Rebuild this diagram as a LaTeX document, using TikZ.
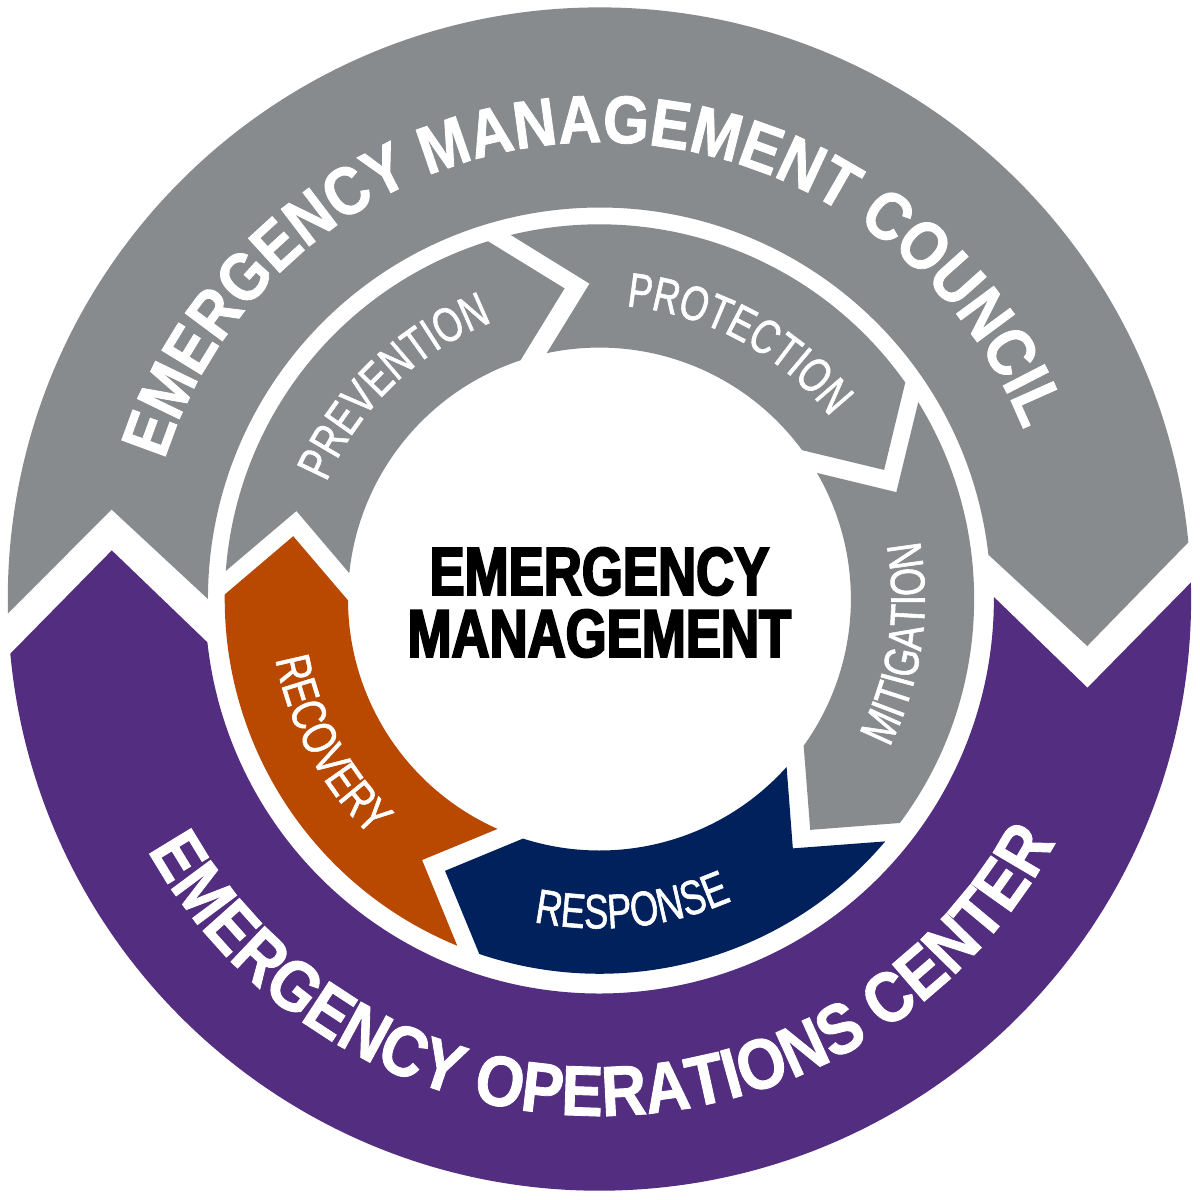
\documentclass[tikz,border=0pt]{standalone}
\usepackage{fontspec}
\usepackage{tikz}
\usetikzlibrary{decorations.text}
\newfontfamily\councilfont{Liberation Sans}[FakeStretch=0.88, BoldFeatures={FakeBold=1.2}]
\newfontfamily\phasefont{Liberation Sans}[FakeStretch=0.75, FakeBold=1.2]
\newfontfamily\corefont{Liberation Sans}[FakeStretch=0.78, BoldFeatures={FakeBold=3}]
\definecolor{CouncilGray}{RGB}{136, 139, 141}
\definecolor{CenterPurple}{RGB}{82, 45, 128}
\definecolor{RecoveryOrange}{RGB}{185, 72, 0}
\definecolor{ResponseBlue}{RGB}{0, 33, 91}

\begin{document}
\begin{tikzpicture}
    %% Background
    \draw[draw=none, fill=white] (-6,-6) rectangle (6,6);

    %% Outer ring
    \draw[draw=none, fill=CouncilGray] (180:3.97) -- (169.6:5.03) -- (181.4:6)
        arc[start angle=181.4, end angle=5.5, radius=6] -- (-5.5:4.97) -- (6.5:3.97)
        arc[start angle=6.5, end angle=180, radius=3.97] -- cycle;
    \draw[draw=none, fill=CenterPurple] (0.3:4) -- (-10.3:5.03) -- (1.6:6)
        arc[start angle=1.6, end angle=-174.7, radius=6] -- (174.3:4.97) -- (186.3:4)
        arc[start angle=186.3, end angle=360.3, radius=4] -- cycle;

    %% Phases
    \draw[draw=none, fill=CouncilGray] (175.7:3.8) -- (163.8:3.2) -- (174.1:2.55)
        arc[start angle=174.1, end angle=108.3, radius=2.55] -- (96.4:3.17) -- (107.3:3.8)
        arc[start angle=107.3, end angle=175.7, radius=3.8] -- cycle;
    \draw[draw=none, fill=CouncilGray] (103.7:3.8) -- (91.8:3.2) -- (102.1:2.55)
        arc[start angle=102.1, end angle=36.3, radius=2.55] -- (24.4:3.17) -- (35.3:3.8)
        arc[start angle=35.3, end angle=103.7, radius=3.8] -- cycle;
    \draw[draw=none, fill=CouncilGray] (31.7:3.8) -- (19.8:3.2) -- (30.1:2.55)
        arc[start angle=30.1, end angle=-35.7, radius=2.55] -- (-47.6:3.17) -- (-36.7:3.8)
        arc[start angle=-36.7, end angle=31.7, radius=3.8] -- cycle;
    \draw[draw=none, fill=ResponseBlue] (-40.3:3.8) -- (-52.2:3.2) -- (-41.9:2.55)
        arc[start angle=-41.9, end angle=-107.7, radius=2.55] -- (-119.6:3.17) -- (-108.7:3.8)
        arc[start angle=-108.7, end angle=-40.3, radius=3.8] -- cycle;
    \draw[draw=none, fill=RecoveryOrange] (-112.3:3.8) -- (-124.2:3.2) -- (-113.9:2.55)
        arc[start angle=-113.9, end angle=-179.7, radius=2.55] -- (-191.6:3.17) -- (-180.7:3.8)
        arc[start angle=-180.7, end angle=-112.3, radius=3.8] -- cycle;

    %% Ring labels
    \path[decorate, decoration={text along path, text align=center, text color=white,
        text={|\councilfont\bfseries\fontsize{19.5}{19.5}\selectfont|EMERGENCY MANAGEMENT COUNCIL}}]
        (175:4.63) arc[start angle=175, end angle=9, radius=4.63];
    \path[decorate, decoration={text along path, text align=center, text color=white,
        text={|\councilfont\bfseries\fontsize{20.5}{20.5}\selectfont|EMERGENCY OPERATIONS CENTER}}]
        (188:5.24) arc[start angle=188, end angle=353, radius=5.24];

    %% Phase labels
    \path[decorate, decoration={text along path, text align=center, text color=white,
        text={|\phasefont\fontsize{14}{14}\selectfont|PREVENTION}}]
        (179:3.01) arc[start angle=179, end angle=89, radius=3.01];
    \path[decorate, decoration={text along path, text align=center, text color=white,
        text={|\phasefont\fontsize{14}{14}\selectfont|PROTECTION}}]
        (106.5:2.98) arc[start angle=106.5, end angle=16.5, radius=2.98];
    \path[decorate, decoration={text along path, text align=center, text color=white,
        text={|\phasefont\fontsize{14}{14}\selectfont|MITIGATION}}]
        (-53.4:3.3) arc[start angle=-53.4, end angle=36.6, radius=3.3];
    \path[decorate, decoration={text along path, text align=center, text color=white,
        text={|\phasefont\fontsize{14}{14}\selectfont|RESPONSE}}]
        (-128.9:3.34) arc[start angle=-128.9, end angle=-38.9, radius=3.34];
    \path[decorate, decoration={text along path, text align=center, text color=white,
        text={|\phasefont\fontsize{14}{14}\selectfont|RECOVERY}}]
        (163.3:3.34) arc[start angle=163.3, end angle=253.3, radius=3.34];

    %% Center
    \node[align=center, inner sep=0pt, font=\corefont\bfseries\fontsize{19.5}{17.9}\selectfont] (emcore) at (0,-0.035) {EMERGENCY\\MANAGEMENT};
\end{tikzpicture}
\end{document}
